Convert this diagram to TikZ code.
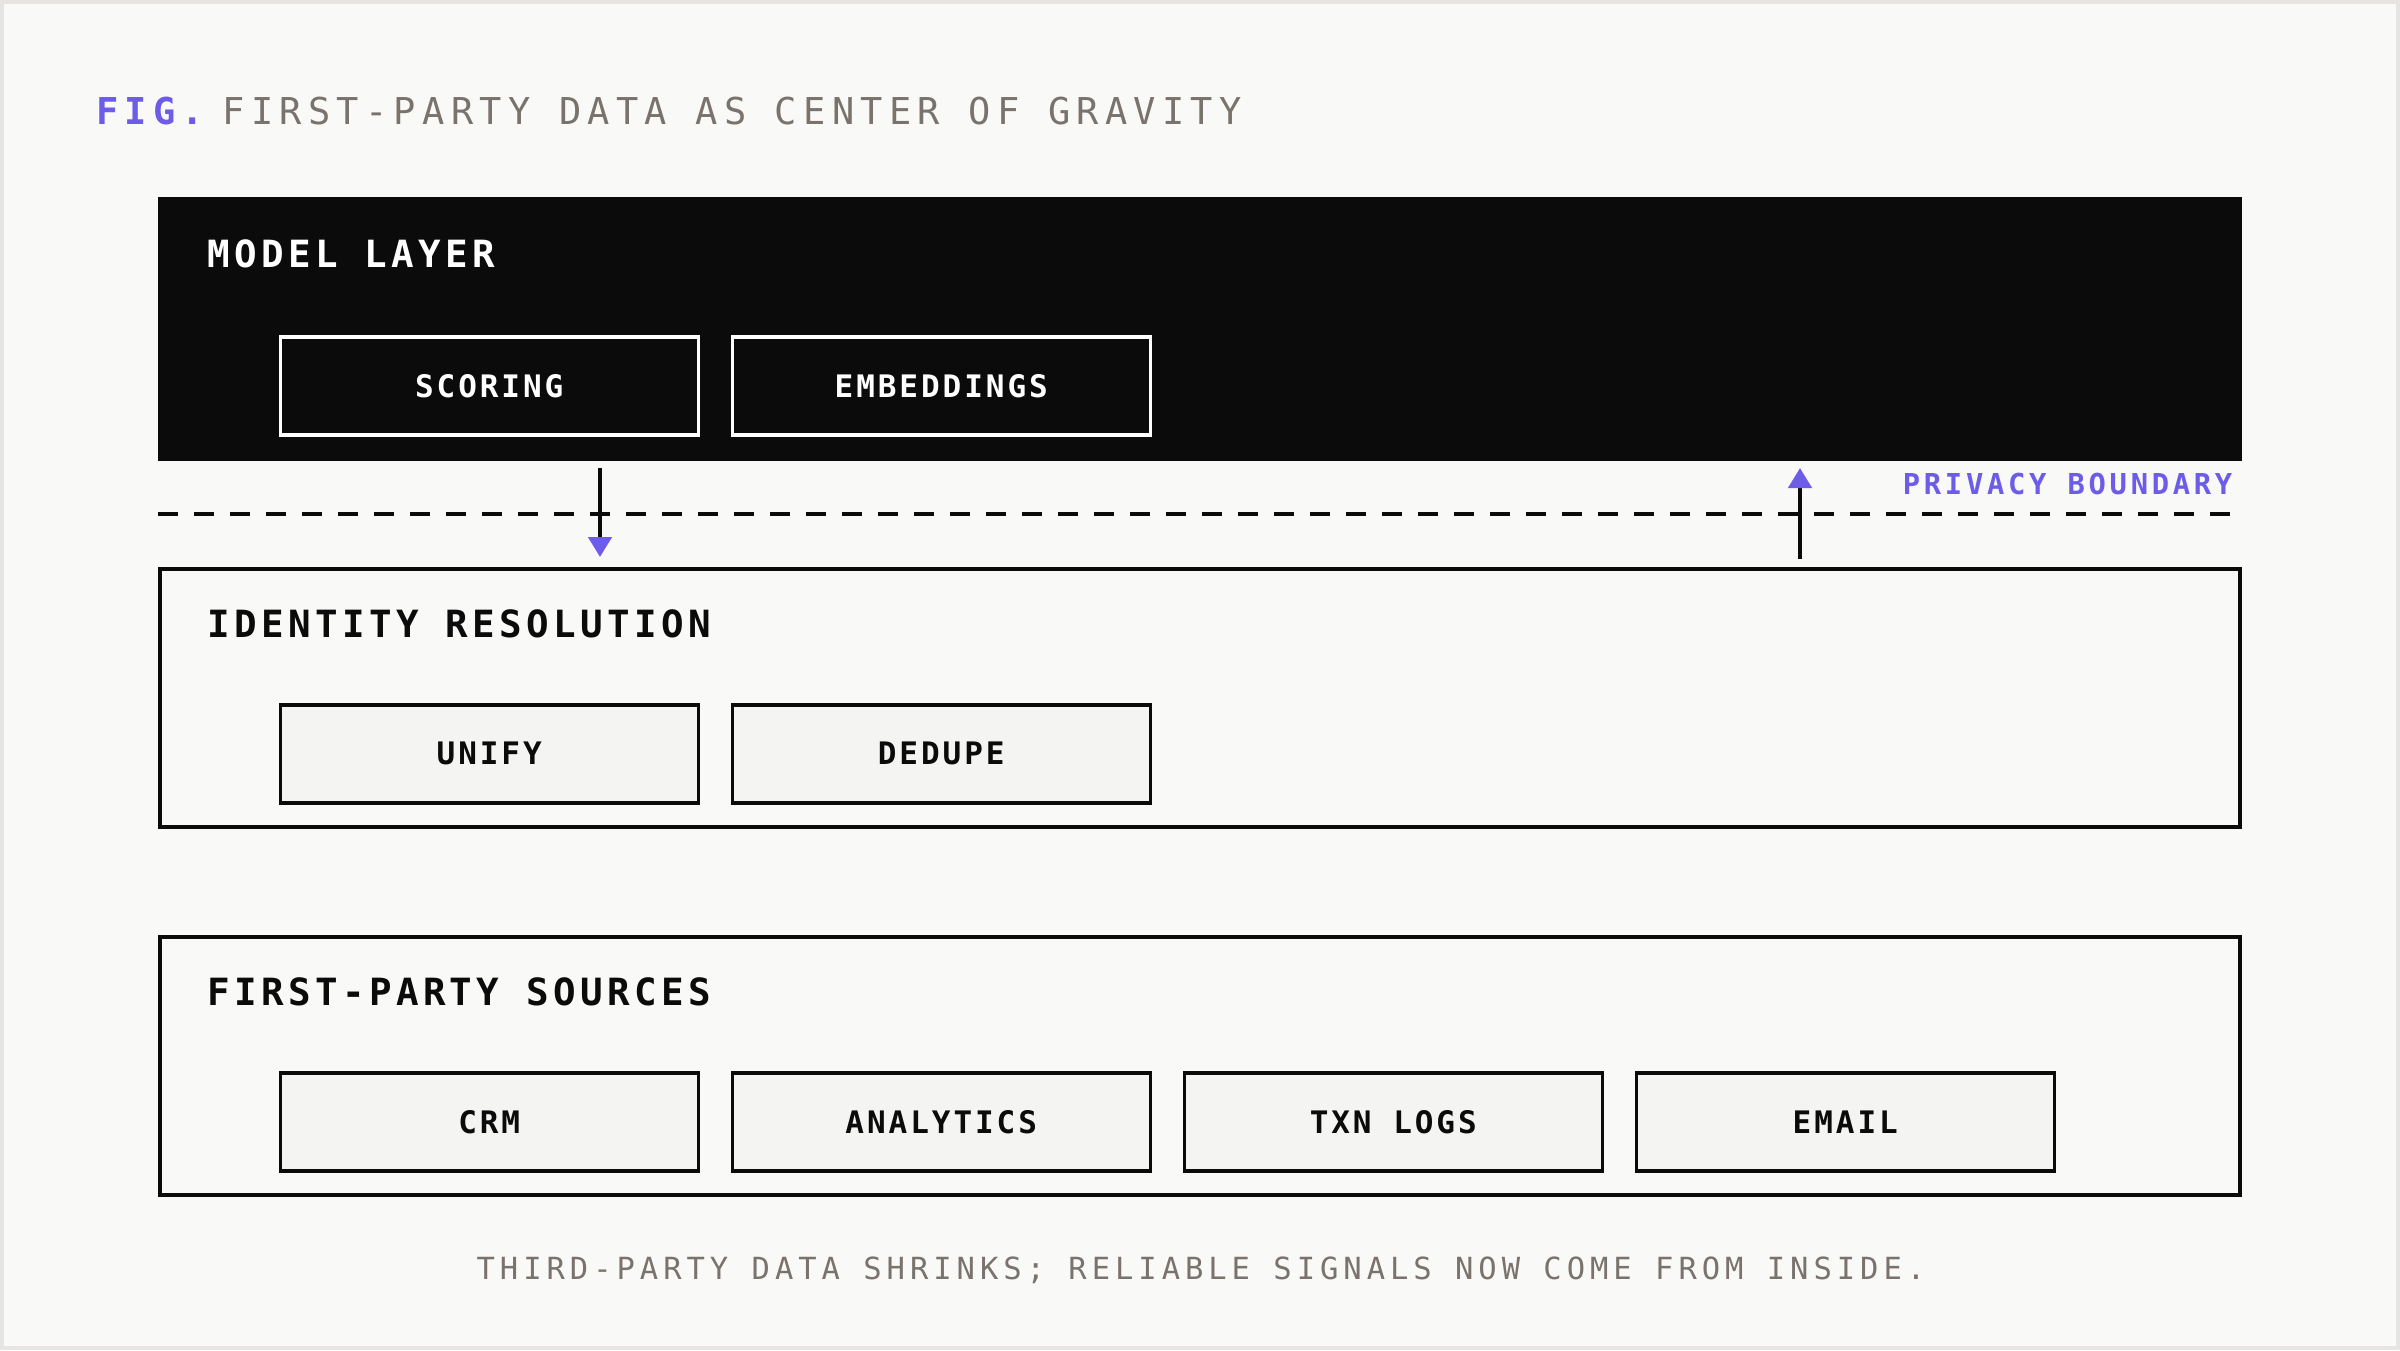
\documentclass[tikz,border=0pt]{standalone}
\usepackage{xcolor}
\usepackage{fontspec}
\usepackage{tikz}
\usetikzlibrary{arrows.meta,positioning,calc}

\definecolor{paper}{HTML}{F9F9F7}
\definecolor{edgegray}{HTML}{E6E5E2}
\definecolor{ink}{HTML}{0B0B0B}
\definecolor{accent}{HTML}{6C5CE7}
\definecolor{muted}{HTML}{7A736D}
\definecolor{cellfill}{HTML}{F4F4F2}

\newfontfamily\titlemono{DejaVu Sans Mono}[LetterSpace=17]
\newfontfamily\headmono{DejaVu Sans Mono}[LetterSpace=11.6]
\newfontfamily\boxmono{DejaVu Sans Mono}[LetterSpace=9.5]
\newfontfamily\tagmono{DejaVu Sans Mono}[LetterSpace=12.9]
\newfontfamily\notemono{DejaVu Sans Mono}[LetterSpace=16.3]

\begin{document}
\begin{tikzpicture}[x=1pt,y=-1pt]
  \tikzset{
    layerbox/.style={anchor=north west,inner sep=0pt,minimum width=2080pt,minimum height=258pt,line width=4pt,draw=ink,fill=paper},
    layername/.style={anchor=base west,inner sep=0pt,font=\headmono\bfseries\fontsize{37.5}{40}\selectfont},
    cellbox/.style={anchor=north west,inner sep=0pt,minimum width=418pt,minimum height=98pt,line width=3.5pt,font=\boxmono\bfseries\fontsize{31}{34}\selectfont},
    darkcell/.style={cellbox,draw=white,fill=ink,text=white},
    lightcell/.style={cellbox,draw=ink,fill=cellfill,text=ink},
    crossarrow/.style={line width=4.5pt,draw=ink,-{Triangle[length=20pt,width=23pt,color=accent]}},
    boundary/.style={line width=4pt,draw=ink,dash pattern=on 20pt off 16pt}
  }
  % page
  \fill[paper] (0,0) rectangle (2400,1350);
  \draw[edgegray,line width=4pt] (2,2) rectangle (2398,1348);
  \useasboundingbox (0,0) rectangle (2400,1350);

  % title
  \node[anchor=base west,inner sep=0pt,text=accent,font=\titlemono\bfseries\fontsize{37}{40}\selectfont] (fig) at (96,124) {FIG.};
  \node[base right=18pt of fig,inner sep=0pt,text=muted,font=\titlemono\fontsize{37}{40}\selectfont] (title) {FIRST-PARTY DATA AS CENTER OF GRAVITY};

  % layers
  \node[layerbox,fill=ink,draw=none,outer sep=0pt,minimum width=2084pt,minimum height=264pt] (model) at (158,197) {};
  \node[layerbox] (identity) at (158,567) {};
  \node[layerbox] (sources) at (158,935) {};

  \node[layername,text=white] (modeltitle) at ([shift={(49.5,70)}]model.north west) {MODEL LAYER};
  \node[layername,text=ink] (identitytitle) at ([shift={(49.5,70)}]identity.north west) {IDENTITY RESOLUTION};
  \node[layername,text=ink] (sourcestitle) at ([shift={(49.5,70)}]sources.north west) {FIRST-PARTY SOURCES};

  % model layer
  \node[darkcell] (scoring) at (278.5,335) {SCORING};
  \node[darkcell,right=30.5pt of scoring] (embeddings) {EMBEDDINGS};

  % identity resolution
  \node[lightcell] (unify) at (278.5,703) {UNIFY};
  \node[lightcell,right=30.5pt of unify] (dedupe) {DEDUPE};

  % first-party sources
  \node[lightcell] (crm) at (278.5,1071) {CRM};
  \node[lightcell,right=30.5pt of crm] (analytics) {ANALYTICS};
  \node[lightcell,right=30.5pt of analytics] (txnlogs) {TXN LOGS};
  \node[lightcell,right=30.5pt of txnlogs] (email) {EMAIL};

  % privacy boundary
  \coordinate (gatewest) at ([yshift=-53pt]model.south west);
  \coordinate (gateeast) at ([shift={(-7,53)}]model.south east);
  \draw[boundary] (gatewest) -- (gateeast);
  \node[anchor=base east,inner sep=0pt,text=accent,font=\tagmono\bfseries\fontsize{28.8}{32}\selectfont] (privacy) at ([shift={(-9.5,33)}]model.south east) {PRIVACY BOUNDARY};

  \draw[crossarrow] ([shift={(442,7)}]model.south west) -- ([shift={(442,-10)}]identity.north west);
  \draw[crossarrow] ([shift={(1642,-8)}]identity.north west) -- ([shift={(1642,7)}]model.south west);

  % footer
  \node[anchor=base,inner sep=0pt,text=muted,font=\notemono\fontsize{30.5}{34}\selectfont] (footnote) at (1201,1279) {THIRD-PARTY DATA SHRINKS; RELIABLE SIGNALS NOW COME FROM INSIDE.};
\end{tikzpicture}
\end{document}
